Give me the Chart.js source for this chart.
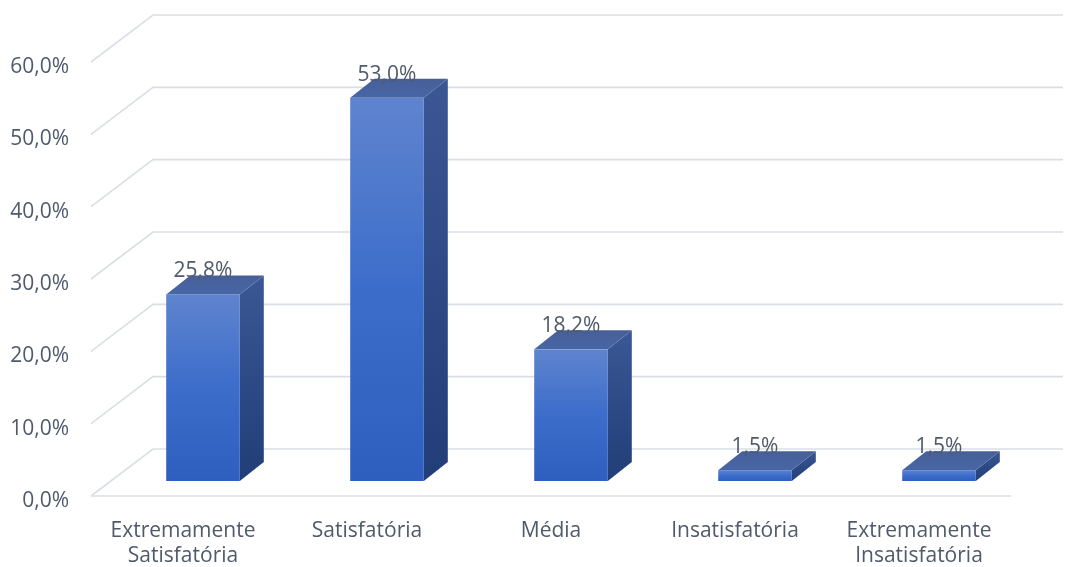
<!DOCTYPE html>
<html>
<head>
<meta charset="utf-8">
<script src="https://cdn.jsdelivr.net/npm/chart.js@4.4.1/dist/chart.umd.min.js"></script>
<style>
  html, body { margin: 0; padding: 0; background: #ffffff; }
  #wrap { width: 1065px; height: 567px; }
</style>
</head>
<body>
<div id="wrap"><canvas id="chart" width="1065" height="567"></canvas></div>
<script>
// Avaliação: distribuição percentual das respostas
const categories = [
  ['Extremamente', 'Satisfatória'],
  'Satisfatória',
  'Média',
  'Insatisfatória',
  ['Extremamente', 'Insatisfatória']
];
const percentages = [25.8, 53.0, 18.2, 1.5, 1.5];
const tickValues = [0, 10, 20, 30, 40, 50, 60];

const TEXT = '#4f5a6a';
const GRID = '#dadee5';
const FONT = "'Open Sans', 'DejaVu Sans', sans-serif";

// pt-BR style percentage: 25,8%
const fmt = v => v.toFixed(1).replace('.', ',') + '%';

// Perspective offsets (pixels): back wall, bar front plane, bar depth
const WALL = { dx: 62, dy: -47, extra: 52 };
const BAR_FRONT = { dx: 20, dy: -15 };
const BAR_DEPTH = { dx: 24, dy: -19 };

const depth3d = {
  id: 'depth3d',
  beforeDatasetsDraw(chart) {
    const { ctx, chartArea: a, scales: { y } } = chart;
    ctx.save();
    ctx.strokeStyle = GRID;
    ctx.lineWidth = 1.6;
    y.ticks.forEach(t => {
      const yf = y.getPixelForValue(t.value);
      ctx.beginPath();
      ctx.moveTo(a.left, yf);
      ctx.lineTo(a.left + WALL.dx, yf + WALL.dy);
      ctx.lineTo(a.right + WALL.extra, yf + WALL.dy);
      ctx.stroke();
      if (t.value === 0) {
        ctx.beginPath();
        ctx.moveTo(a.left, yf);
        ctx.lineTo(a.right, yf);
        ctx.stroke();
      }
    });
    ctx.restore();
  },
  afterDatasetsDraw(chart) {
    const { ctx } = chart;
    const meta = chart.getDatasetMeta(0);
    const data = chart.data.datasets[0].data;
    ctx.save();
    meta.data.forEach((el, i) => {
      const p = el.getProps(['x', 'y', 'base', 'width'], true);
      const x0 = p.x - p.width / 2 + BAR_FRONT.dx;
      const x1 = p.x + p.width / 2 + BAR_FRONT.dx;
      const yt = p.y + BAR_FRONT.dy;
      const yb = p.base + BAR_FRONT.dy;
      const dx = BAR_DEPTH.dx, dy = BAR_DEPTH.dy;

      // side face
      let g = ctx.createLinearGradient(0, yt + dy, 0, yb);
      g.addColorStop(0, '#3b5794');
      g.addColorStop(1, '#213e79');
      ctx.fillStyle = g;
      ctx.beginPath();
      ctx.moveTo(x1, yt);
      ctx.lineTo(x1 + dx, yt + dy);
      ctx.lineTo(x1 + dx, yb + dy);
      ctx.lineTo(x1, yb);
      ctx.closePath();
      ctx.fill();

      // top face
      g = ctx.createLinearGradient(0, yt + dy, 0, yt);
      g.addColorStop(0, '#475f98');
      g.addColorStop(1, '#4866a6');
      ctx.fillStyle = g;
      ctx.beginPath();
      ctx.moveTo(x0, yt);
      ctx.lineTo(x0 + dx, yt + dy);
      ctx.lineTo(x1 + dx, yt + dy);
      ctx.lineTo(x1, yt);
      ctx.closePath();
      ctx.fill();

      // front face
      g = ctx.createLinearGradient(0, yt, 0, yb);
      g.addColorStop(0, '#5f84ce');
      g.addColorStop(0.5, '#3c6dcb');
      g.addColorStop(1, '#2f5fbe');
      ctx.fillStyle = g;
      ctx.fillRect(x0, yt, x1 - x0, yb - yt);

      // value label
      ctx.fillStyle = TEXT;
      ctx.font = '21px ' + FONT;
      ctx.textAlign = 'center';
      ctx.textBaseline = 'alphabetic';
      ctx.fillText(fmt(data[i]), (x0 + x1) / 2, yt - 17);
    });
    ctx.restore();
  }
};

new Chart(document.getElementById('chart'), {
  type: 'bar',
  data: {
    labels: categories,
    datasets: [{
      data: percentages,
      backgroundColor: 'rgba(0,0,0,0)',
      borderWidth: 0,
      categoryPercentage: 1,
      barPercentage: 0.4
    }]
  },
  options: {
    responsive: false,
    animation: false,
    devicePixelRatio: 1,
    layout: { padding: { top: 62, right: 54, bottom: 0, left: 0 } },
    plugins: {
      legend: { display: false },
      tooltip: { enabled: false }
    },
    scales: {
      x: {
        grid: { display: false },
        border: { display: false },
        ticks: {
          color: TEXT,
          font: { family: FONT, size: 21, lineHeight: 1.2 },
          padding: 14,
          maxRotation: 0,
          autoSkip: false
        },
        afterFit: s => { s.height = 71; }
      },
      y: {
        min: 0,
        max: 60,
        afterBuildTicks: s => { s.ticks = tickValues.map(v => ({ value: v })); },
        grid: { display: false, drawTicks: false },
        border: { display: false },
        ticks: {
          color: TEXT,
          font: { family: FONT, size: 21 },
          padding: 22,
          labelOffset: 5,
          callback: v => fmt(v)
        },
        afterFit: s => { s.width = 91; }
      }
    }
  },
  plugins: [depth3d]
});
</script>
</body>
</html>
